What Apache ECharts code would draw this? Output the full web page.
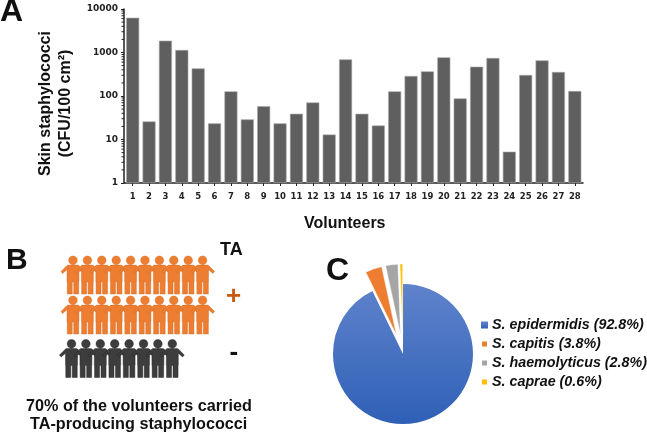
<!DOCTYPE html>
<html><head><meta charset="utf-8">
<style>html,body{margin:0;padding:0;background:#fff}#c{width:647px;height:433px}</style>
<script src="https://cdn.jsdelivr.net/npm/echarts@6/dist/echarts.min.js"></script>
</head><body><div id="c"></div>
<script>
const volunteers = ['1','2','3','4','5','6','7','8','9','10','11','12','13','14','15','16','17','18','19','20','21','22','23','24','25','26','27','28'];
const cfuCounts = [6300,26,1870,1140,432,23.5,128,29,58,23.5,39,71,13,696,39,21,128,288,369,774,88,472,748,5.25,304,660,356,130];
const minorTickValues = [2,3,4,5,6,7,8,9,20,30,40,50,60,70,80,90,200,300,400,500,600,700,800,900,2000,3000,4000,5000,6000,7000,8000,9000];
const speciesNames = ['S. epidermidis (92.8%)','S. capitis (3.8%)','S. haemolyticus (2.8%)','S. caprae (0.6%)'];
const speciesShares = [92.8,3.8,2.8,0.6];
const peopleCounts = [10,10,8];
const personPath = 'path://M50,0 C61,0 68,10 68,23 C68,36 61,46 50,46 C39,46 32,36 32,23 C32,10 39,0 50,0 Z M30,48 L70,48 C73,48 75,49 76,51 L100,82 L93,92 L75,72 L75,135 L74,135 L74,200 L53,200 L53,137 L47,137 L47,200 L26,200 L26,135 L25,135 L25,72 L7,92 L0,82 L24,51 C25,49 27,48 30,48 Z';
const font = '"Liberation Sans", Arial, sans-serif';
const tickFont = '"DejaVu Sans", sans-serif';
const blue = new echarts.graphic.LinearGradient(0,0,0,1,[{offset:0,color:'#5f83cc'},{offset:1,color:'#2f60b6'}],false);
const pieColors = [blue,'#ed7d31','#a5a5a5','#ffc000'];
const people = [];
peopleCounts.forEach((n,r)=>{for(let i=1;i<=n;i++)people.push({value:[i,r],symbolOffset:r===2?[-1.5,3.5]:[0,0],itemStyle:r===2?{color:'#3d3d3d',borderColor:'#1e1e1e'}:{color:'#ed7d31',borderColor:'#d06a22'}});});
const txt=(text,x,y,size,extra)=>({type:'text',left:x,top:y,style:Object.assign({text,fontFamily:font,fontWeight:'bold',fontSize:size,fill:'#111'},extra||{})});
const chart = echarts.init(document.getElementById('c'),null,{renderer:'canvas'});
chart.setOption({
  animation:false,
  backgroundColor:'#fff',
  grid:[{left:124.5,top:9,width:458.5,height:174},{left:73,top:275,width:129.6,height:80}],
  xAxis:[{type:'category',data:volunteers,gridIndex:0,name:'Volunteers',nameLocation:'middle',nameGap:33,
    nameTextStyle:{fontFamily:font,fontWeight:'bold',fontSize:16,color:'#111',padding:[0,18,0,0]},
    axisLine:{lineStyle:{color:'#222',width:1.5}},axisTick:{show:true,alignWithLabel:true,length:3,lineStyle:{color:'#222'}},
    axisLabel:{interval:0,margin:9,fontFamily:tickFont,fontWeight:'bold',fontSize:8.5,color:'#222'}},
    {type:'value',gridIndex:1,min:1,max:10,show:false}],
  yAxis:[{type:'log',logBase:10,min:1,max:10000,gridIndex:0,offset:0.5,name:'Skin staphylococci\n(CFU/100 cm²)',nameLocation:'middle',nameGap:44,
    nameTextStyle:{fontFamily:font,fontWeight:'bold',fontSize:16,color:'#111',lineHeight:20,padding:[0,15,0,0]},
    axisLine:{show:true,lineStyle:{color:'#222',width:1.5}},axisTick:{show:true,length:3,lineStyle:{color:'#222'}},
    minorTick:{show:false},splitLine:{show:false},minorSplitLine:{show:false},
    axisLabel:{margin:6,formatter:v=>String(v),fontFamily:tickFont,fontWeight:'bold',fontSize:9,color:'#222'}},
    {type:'value',gridIndex:1,min:0,max:2,inverse:true,show:false}],
  legend:{orient:'vertical',left:475,top:313,icon:'rect',itemWidth:7,itemHeight:7,itemGap:5,data:speciesNames,selectedMode:false,
    textStyle:{fontFamily:font,fontWeight:'bold',fontStyle:'italic',fontSize:14.3,color:'#111',padding:[0,0,0,-1]}},
  graphic:[
    txt('A',0,-3.4,32),txt('B',6,246,30),txt('C',326,255,32),
    txt('TA',220,240.6,18),txt('+',226,284,26,{fill:'#c55a11'}),txt('-',229.5,340,26),
    txt('70% of the volunteers carried',26,399,16.2),
    txt('TA-producing staphylococci',30,417,16.2)
  ],
  series:[
    {type:'bar',name:'CFU',xAxisIndex:0,yAxisIndex:0,data:cfuCounts,barWidth:13,itemStyle:{color:'#5f5f5f',borderColor:'#a8a8a8',borderWidth:0.6},silent:true},
    {type:'custom',xAxisIndex:0,yAxisIndex:0,clip:false,silent:true,data:minorTickValues.map(v=>['1',v]),encode:{x:0,y:1},
      renderItem:(params,api)=>{const p=api.coord([0,api.value(1)]);const x=params.coordSys.x-0.5;
        return {type:'line',shape:{x1:x-2.5,y1:p[1],x2:x,y2:p[1]},style:{stroke:'#222',lineWidth:1}};}},
    {type:'scatter',xAxisIndex:1,yAxisIndex:1,data:people,symbol:personPath,symbolSize:[24,38],
      itemStyle:{borderWidth:0.4,opacity:1},silent:true},
    {type:'pie',center:[403,354],radius:[0,70],startAngle:90,clockwise:true,selectedMode:'multiple',selectedOffset:20,silent:true,
      label:{show:false},labelLine:{show:false},
      data:speciesNames.map((name,i)=>({name,value:speciesShares[i],selected:i>0,itemStyle:{color:pieColors[i],borderColor:'#fff',borderWidth:i>0?0.4:0}}))}
  ]
});
</script></body></html>
